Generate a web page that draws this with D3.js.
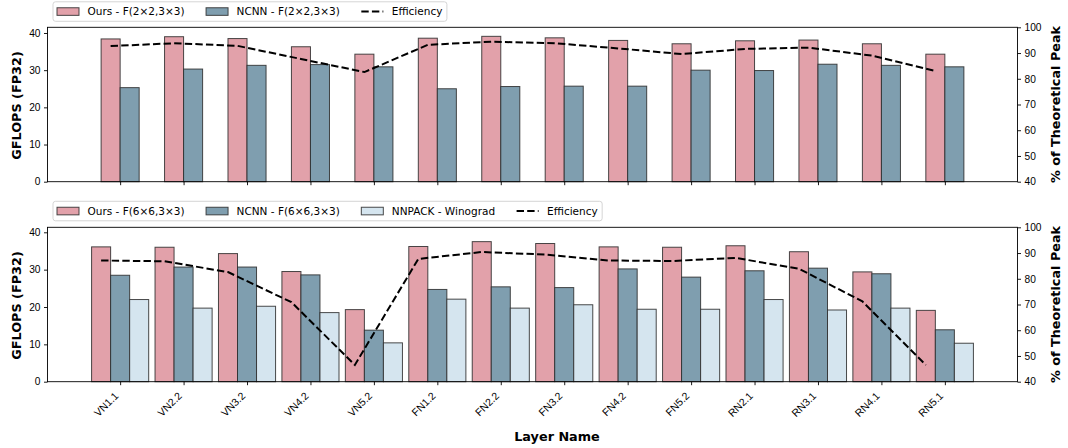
<!DOCTYPE html>
<html>
<head>
<meta charset="utf-8">
<script src="https://cdn.jsdelivr.net/npm/d3@7"></script>
<style>
  html, body { margin: 0; padding: 0; background: #fff; }
  svg { display: block; font-family: "DejaVu Sans", sans-serif; }
</style>
</head>
<body>
<svg id="chart" width="1068" height="448"></svg>
<script>
// ---------- data ----------
const layers = ["VN1.1","VN2.2","VN3.2","VN4.2","VN5.2","FN1.2","FN2.2","FN3.2","FN4.2","FN5.2","RN2.1","RN3.1","RN4.1","RN5.1"];

// top panel: F(2x2,3x3)
const oursF2 = [38.4, 39.0, 38.5, 36.3, 34.3, 38.6, 39.1, 38.7, 38.0, 37.1, 37.9, 38.1, 37.1, 34.3];
const ncnnF2 = [25.3, 30.3, 31.3, 31.5, 30.9, 25.0, 25.6, 25.7, 25.7, 30.0, 29.9, 31.6, 31.3, 30.9];
const effF2  = [92.7, 93.8, 92.8, 87.7, 82.6, 93.2, 94.4, 93.8, 91.8, 89.6, 91.6, 92.1, 89.0, 83.0];

// bottom panel: F(6x6,3x3)
const oursF6  = [36.1, 36.0, 34.3, 29.5, 19.3, 36.2, 37.5, 37.0, 36.1, 36.0, 36.4, 34.8, 29.4, 19.1];
const ncnnF6  = [28.5, 30.7, 30.7, 28.6, 13.8, 24.7, 25.4, 25.2, 30.2, 28.0, 29.7, 30.4, 28.9, 13.9];
const nnpack  = [22.0, 19.7, 20.2, 18.5, 10.4, 22.1, 19.7, 20.6, 19.4, 19.4, 22.0, 19.2, 19.7, 10.3];
const effF6   = [87.1, 86.8, 82.6, 70.9, 46.5, 87.7, 90.4, 89.4, 87.1, 86.9, 88.1, 83.9, 71.2, 46.5];

const leftTicks  = [0, 10, 20, 30, 40];
const rightTicks = [40, 50, 60, 70, 80, 90, 100];

const legendTop = ["Ours - F(2×2,3×3)", "NCNN - F(2×2,3×3)", "Efficiency"];
const legendBot = ["Ours - F(6×6,3×3)", "NCNN - F(6×6,3×3)", "NNPACK - Winograd", "Efficiency"];

// ---------- style ----------
const C_OURS = "#e2a1aa", C_NCNN = "#7f9eaf", C_NNP = "#d5e5ef", C_EDGE = "#2a2a2a";
const BW = 0.3;

const svg = d3.select("#chart");
const L = 47.5, R = 1017.5;
const x = d3.scaleLinear().domain([-1.145, 14.145]).range([L, R]);

function panel(cfg) {
  const { top, bottom, ymax, series, eff, showLabels, legend } = cfg;
  const yL = d3.scaleLinear().domain([0, ymax]).range([bottom, top]);
  const yR = d3.scaleLinear().domain([40, 100]).range([bottom, top]);
  const g = svg.append("g");

  // bars
  series.forEach(s => {
    g.selectAll(null).data(s.values).enter().append("rect")
      .attr("x", (d, i) => x(i + s.offset - BW / 2))
      .attr("width", x(BW) - x(0))
      .attr("y", d => yL(d))
      .attr("height", d => yL(0) - yL(d))
      .attr("fill", s.color)
      .attr("stroke", C_EDGE)
      .attr("stroke-opacity", 0.85)
      .attr("stroke-width", 1);
  });

  // efficiency line (at centre of "Ours" bars)
  const line = d3.line().x((d, i) => x(i + series[0].offset)).y(d => yR(d));
  g.append("path").datum(eff)
    .attr("d", line)
    .attr("fill", "none")
    .attr("stroke", "#000")
    .attr("stroke-width", 2)
    .attr("stroke-dasharray", "7.4,3.2");

  // frame
  g.append("rect").attr("x", L).attr("y", top).attr("width", R - L).attr("height", bottom - top)
    .attr("fill", "none").attr("stroke", "#000").attr("stroke-width", 0.9);

  // axes
  const ax = g.append("g").attr("transform", `translate(0,${bottom})`)
    .call(d3.axisBottom(x).tickValues(d3.range(layers.length)).tickSize(3.5).tickSizeOuter(0)
      .tickFormat(showLabels ? (i => layers[i]) : () => ""));
  ax.select(".domain").remove();
  ax.selectAll(".tick line").attr("stroke", "#000").attr("stroke-width", 0.9);
  if (showLabels) {
    ax.selectAll(".tick text")
      .attr("font-size", 10.5).attr("fill", "#000")
      .attr("text-anchor", "end")
      .attr("dy", null).attr("y", null)
      .attr("transform", "translate(-1.5,14.8) rotate(-45)");
  }

  const al = g.append("g").attr("transform", `translate(${L},0)`)
    .call(d3.axisLeft(yL).tickValues(leftTicks).tickSize(3.5).tickPadding(3.5));
  al.select(".domain").remove();
  al.selectAll(".tick line").attr("stroke", "#000").attr("stroke-width", 0.9);
  al.selectAll(".tick text").attr("font-size", 10.2).attr("fill", "#000");

  const ar = g.append("g").attr("transform", `translate(${R},0)`)
    .call(d3.axisRight(yR).tickValues(rightTicks).tickSize(3.5).tickPadding(3.5));
  ar.select(".domain").remove();
  ar.selectAll(".tick line").attr("stroke", "#000").attr("stroke-width", 0.9);
  ar.selectAll(".tick text").attr("font-size", 10.2).attr("fill", "#000");

  const mid = (top + bottom) / 2;
  g.append("text").attr("transform", `translate(20.5,${mid + 1}) rotate(-90)`)
    .attr("text-anchor", "middle").attr("font-size", 12.8).attr("font-weight", "bold")
    .text("GFLOPS (FP32)");
  g.append("text").attr("transform", `translate(1060,${mid}) rotate(-90)`)
    .attr("text-anchor", "middle").attr("font-size", 12.8).attr("font-weight", "bold")
    .text("% of Theoretical Peak");

  // legend
  const lg = svg.append("g");
  const fx = 53, fy = legend.y, fh = 19.5;
  const frame = lg.append("rect").attr("x", fx).attr("y", fy).attr("height", fh)
    .attr("rx", 2.5).attr("fill", "#fff").attr("fill-opacity", 0.8)
    .attr("stroke", "#d0d0d0").attr("stroke-width", 0.9);
  let cx = fx + 4;
  const cy = fy + fh / 2;
  legend.items.forEach((it, k) => {
    if (it.type === "bar") {
      lg.append("rect").attr("x", cx).attr("y", cy - 3.8).attr("width", 22).attr("height", 7.6)
        .attr("fill", it.color).attr("stroke", C_EDGE).attr("stroke-opacity", 0.85).attr("stroke-width", 1);
    } else {
      lg.append("line").attr("x1", cx).attr("x2", cx + 22).attr("y1", cy).attr("y2", cy)
        .attr("stroke", "#000").attr("stroke-width", 2).attr("stroke-dasharray", "7.4,3.2");
    }
    const t = lg.append("text").attr("x", cx + 30.5).attr("y", cy + 3.8)
      .attr("font-size", 10.5).attr("fill", "#000").text(it.label);
    const w = t.node().getComputedTextLength();
    cx = cx + 30.5 + w + (k < legend.items.length - 1 ? 21.5 : 4.5);
  });
  frame.attr("width", cx - fx);
}

panel({
  top: 27.3, bottom: 181.7, ymax: 41.53, showLabels: false,
  series: [
    { values: oursF2, offset: -BW / 2, color: C_OURS },
    { values: ncnnF2, offset:  BW / 2, color: C_NCNN }
  ],
  eff: effF2,
  legend: { y: 1.8, items: [
    { type: "bar", color: C_OURS, label: legendTop[0] },
    { type: "bar", color: C_NCNN, label: legendTop[1] },
    { type: "line", label: legendTop[2] }
  ]}
});

panel({
  top: 227.3, bottom: 381.7, ymax: 41.34, showLabels: true,
  series: [
    { values: oursF6, offset: -BW, color: C_OURS },
    { values: ncnnF6, offset: 0, color: C_NCNN },
    { values: nnpack, offset: BW, color: C_NNP }
  ],
  eff: effF6,
  legend: { y: 201.3, items: [
    { type: "bar", color: C_OURS, label: legendBot[0] },
    { type: "bar", color: C_NCNN, label: legendBot[1] },
    { type: "bar", color: C_NNP, label: legendBot[2] },
    { type: "line", label: legendBot[3] }
  ]}
});

svg.append("text").attr("x", 557).attr("y", 440.5).attr("text-anchor", "middle")
  .attr("font-size", 12.8).attr("font-weight", "bold").attr("fill", "#000").text("Layer Name");
</script>
</body>
</html>
